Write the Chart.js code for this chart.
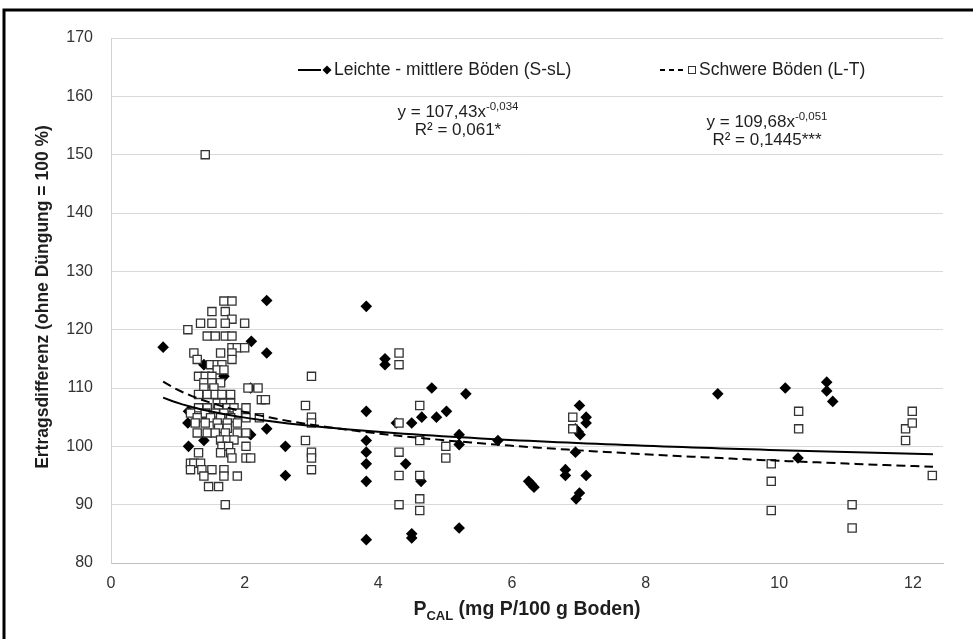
<!DOCTYPE html>
<html>
<head>
<meta charset="utf-8">
<script src="https://cdn.jsdelivr.net/npm/chart.js@4.4.0/dist/chart.umd.min.js"></script>
<style>
  html, body { margin: 0; padding: 0; background: #fff; }
  canvas { display: block; }
</style>
</head>
<body>
<canvas id="canvas" width="973" height="639"></canvas>
<script>
// Leichte - mittlere Böden (S-sL): [P_CAL, Ertragsdifferenz]
var leichte = [
  [0.78,117],[1.15,104],[1.16,106],[1.16,100],[1.39,114],[1.39,105],[1.39,101],
  [1.66,107],[1.69,112],[1.72,100.5],[2.09,110],[2.09,102],[2.10,118],[2.33,125],
  [2.33,116],[2.33,103],[2.61,100],[2.61,95],
  [3.82,124],[3.82,106],[3.82,101],[3.82,99],[3.82,97],[3.82,94],[3.82,84],
  [4.10,115],[4.10,114],[4.27,104],[4.41,97],[4.50,104],[4.50,85],[4.50,84.3],
  [4.64,94],[4.65,105],[4.80,110],[4.87,105],[5.02,106],[5.21,102],[5.21,100.3],
  [5.21,86],[5.31,109],[5.79,101],[6.25,94],[6.29,93.5],[6.33,93],
  [6.80,96],[6.80,95],[6.95,103],[6.95,99],[6.96,91],[6.99,102.5],[7.01,107],
  [7.01,92],[7.02,102],[7.11,105],[7.11,104],[7.11,95],
  [9.08,109],[10.09,110],[10.28,98],[10.71,111],[10.71,109.5],[10.80,107.7]
]

// Schwere Böden (L-T)
var schwere = [
  [1.41,150],
  [1.69,124.9],[1.81,124.9],[1.51,123.1],[1.71,123.1],[1.81,121.8],
  [1.34,121.1],[1.51,121.1],[1.71,121.1],[2.00,121.1],[1.15,120],
  [1.44,118.9],[1.56,118.9],[1.71,118.9],[1.81,118.9],
  [1.81,116.9],[1.89,116.9],[2.00,116.9],[1.24,116],[1.64,116],[1.81,116],
  [1.29,114.9],[1.81,114.9],[1.49,114],[1.59,114],[1.66,114],[1.59,113.1],[1.69,113.1],
  [1.31,112],[1.41,112],[1.51,112],[1.39,110.9],[1.51,110.9],[1.64,110.9],
  [1.39,110],[1.54,110],[2.05,110],[2.20,110],
  [1.31,108.9],[1.44,108.9],[1.56,108.9],[1.66,108.9],[1.79,108.9],[2.25,108],[2.31,108],
  [1.59,107.4],[1.69,107.4],[1.79,107.4],
  [1.31,106.6],[1.44,106.6],[1.61,106.6],[1.74,106.6],[1.84,106.6],[2.02,106.6],
  [1.19,105.7],[1.41,105.7],[1.56,105.7],[1.69,105.7],[1.89,105.7],
  [1.29,104.9],[1.49,104.9],[1.64,104.9],[1.79,104.9],[2.02,104.9],[2.22,104.9],
  [1.26,104],[1.41,104],[1.59,104],[1.74,104],[1.89,104],[1.61,103.1],[1.74,103.1],
  [1.29,102.3],[1.44,102.3],[1.56,102.3],[1.71,102.3],[1.89,102.3],[2.02,102.3],
  [1.64,101.1],[1.74,101.1],[1.84,101.1],[1.66,100],[1.76,100],[2.02,100],
  [1.31,98.9],[1.64,98.9],[1.79,98.9],[1.81,98],[2.02,98],[2.09,98],
  [1.19,97.1],[1.24,97.1],[1.34,97.1],[1.19,96],[1.36,96],[1.51,96],[1.69,96],
  [1.39,94.9],[1.69,94.9],[1.89,94.9],[1.46,93.1],[1.61,93.1],[1.71,90],
  [3.00,112],[2.91,107],[3.00,105],[3.00,104],[2.91,101],[3.00,99],[3.00,98],[3.00,96],
  [4.31,116],[4.31,114],[4.31,104],[4.31,99],[4.31,95],[4.31,90],
  [4.62,107],[4.62,101],[4.62,95],[4.62,91],[4.62,89],[5.01,100],[5.01,98],
  [6.91,105],[6.91,103],[9.88,97],[9.88,94],[9.88,89],[10.29,106],[10.29,103],
  [11.09,90],[11.09,86],[11.89,103],[11.89,101],[11.99,106],[11.99,104],[12.29,95]
]

// power trend lines as printed in the chart, y = a * x^b
var trendA = [107.43, 109.68]
var trendB = [-0.034, -0.051]
var trendRange = [0.78, 12.3]
var equations = [['y = 107,43x', '-0,034', 'R² = 0,061*'], ['y = 109,68x', '-0,051', 'R² = 0,1445***']]
var seriesNames = ['Leichte - mittlere Böden (S-sL)', 'Schwere Böden (L-T)']

var xTicks = [0, 2, 4, 6, 8, 10, 12]
var yTicks = [80, 90, 100, 110, 120, 130, 140, 150, 160, 170]
var xTitle = ['P', 'CAL', ' (mg P/100 g Boden)']
var yTitle = 'Ertragsdifferenz (ohne Düngung = 100 %)'

var FONT = '"Liberation Sans", Arial, sans-serif'
var TEXT = '#1e1e1e'

function trendPoints(k) {
  var pts = []
  for (var i = 0; i <= 80; i++) {
    var x = trendRange[0] + (trendRange[1] - trendRange[0]) * i / 80
    pts.push({ x: x, y: trendA[k] * Math.pow(x, trendB[k]) })
  }
  return pts
}
function toXY(arr) {
  return arr.map(function (p) { return { x: p[0], y: p[1] } })
}

function drawDiamond(c, x, y, r) {
  c.beginPath(); c.moveTo(x, y - r); c.lineTo(x + r, y); c.lineTo(x, y + r); c.lineTo(x - r, y); c.closePath(); c.fill()
}

var decor = {
  id: 'decor',
  afterDraw: function (chart) {
    var c = chart.ctx
    c.save()
    // frame (only left and top edges are in the picture)
    c.strokeStyle = '#000'; c.lineWidth = 3
    c.beginPath(); c.moveTo(4, 639); c.lineTo(4, 10); c.lineTo(973, 10); c.stroke()

    c.fillStyle = TEXT
    c.textBaseline = 'middle'
    // y axis title
    c.save()
    c.translate(43, 297); c.rotate(-Math.PI / 2)
    c.font = 'bold 17.5px ' + FONT; c.textAlign = 'center'
    c.fillText(yTitle, 0, 0)
    c.restore()

    // x axis title with subscript
    var big = 'bold 19.5px ' + FONT, small = 'bold 13px ' + FONT
    c.font = big; var w0 = c.measureText(xTitle[0]).width, w2 = c.measureText(xTitle[2]).width
    c.font = small; var w1 = c.measureText(xTitle[1]).width
    var xs = 527 - (w0 + w1 + w2) / 2, ty = 610
    c.textAlign = 'left'
    c.font = big; c.fillText(xTitle[0], xs, ty)
    c.font = small; c.fillText(xTitle[1], xs + w0, ty + 6)
    c.font = big; c.fillText(xTitle[2], xs + w0 + w1, ty)

    // legend
    c.font = '17.5px ' + FONT
    c.strokeStyle = '#000'; c.lineWidth = 2
    c.beginPath(); c.moveTo(298, 70); c.lineTo(321, 70); c.stroke()
    c.fillStyle = '#000'; drawDiamond(c, 327, 70, 4.5)
    c.fillStyle = TEXT; c.fillText(seriesNames[0], 334, 70)
    c.setLineDash([5, 4])
    c.beginPath(); c.moveTo(660, 70); c.lineTo(686, 70); c.stroke()
    c.setLineDash([])
    c.lineWidth = 1; c.strokeStyle = '#333'; c.fillStyle = '#fff'
    c.fillRect(688.5, 66.5, 7, 7); c.strokeRect(688.5, 66.5, 7, 7)
    c.fillStyle = TEXT; c.fillText(seriesNames[1], 699, 70)

    // equations
    var pos = [[458, 112, 130], [767, 122, 140]]
    for (var k = 0; k < 2; k++) {
      var e = equations[k]
      c.font = '17px ' + FONT; var a = c.measureText(e[0]).width
      c.font = '11.5px ' + FONT; var b = c.measureText(e[1]).width
      var sx = pos[k][0] - (a + b) / 2
      c.textAlign = 'left'
      c.font = '17px ' + FONT; c.fillText(e[0], sx, pos[k][1])
      c.font = '11.5px ' + FONT; c.fillText(e[1], sx + a, pos[k][1] - 5)
      c.font = '17px ' + FONT; c.textAlign = 'center'
      c.fillText(e[2], pos[k][0], pos[k][2])
    }
    c.restore()
  }
}

var ctx = document.getElementById('canvas').getContext('2d')
var chart = new Chart(ctx, {
  type: 'scatter',
  data: {
    datasets: [
      { label: 'trend1', type: 'line', data: trendPoints(0), borderColor: '#000', borderWidth: 2,
        pointRadius: 0, fill: false, order: 0 },
      { label: 'trend2', type: 'line', data: trendPoints(1), borderColor: '#000', borderWidth: 2,
        borderDash: [9, 5], pointRadius: 0, fill: false, order: 0 },
      { label: seriesNames[1], data: toXY(schwere), pointStyle: 'rect', pointRadius: 5.8,
        backgroundColor: '#fff', borderColor: '#333', borderWidth: 1.3, order: 1 },
      { label: seriesNames[0], data: toXY(leichte), pointStyle: 'rectRot', pointRadius: 5.8,
        backgroundColor: '#000', borderColor: '#000', borderWidth: 0, order: 2 }
    ]
  },
  options: {
    responsive: false,
    animation: false,
    layout: { padding: { top: 38, right: 30, left: 0, bottom: 0 } },
    plugins: { legend: { display: false }, tooltip: { enabled: false } },
    scales: {
      x: {
        type: 'linear', min: 0, max: 12.45,
        afterBuildTicks: function (s) { s.ticks = xTicks.map(function (v) { return { value: v } }) },
        afterFit: function (s) { s.height = 76 },
        ticks: { font: { family: FONT, size: 16 }, color: '#333', padding: 11, maxRotation: 0 },
        grid: { display: false, drawTicks: false },
        border: { color: '#bfbfbf', width: 1 }
      },
      y: {
        min: 80, max: 170,
        afterBuildTicks: function (s) { s.ticks = yTicks.map(function (v) { return { value: v } }) },
        afterFit: function (s) { s.width = 111 },
        ticks: { font: { family: FONT, size: 16 }, color: '#333', padding: 18 },
        grid: { color: '#d9d9d9', drawTicks: false },
        border: { color: '#d0d0d0', width: 1 }
      }
    }
  },
  plugins: [decor]
})
</script>
</body>
</html>
